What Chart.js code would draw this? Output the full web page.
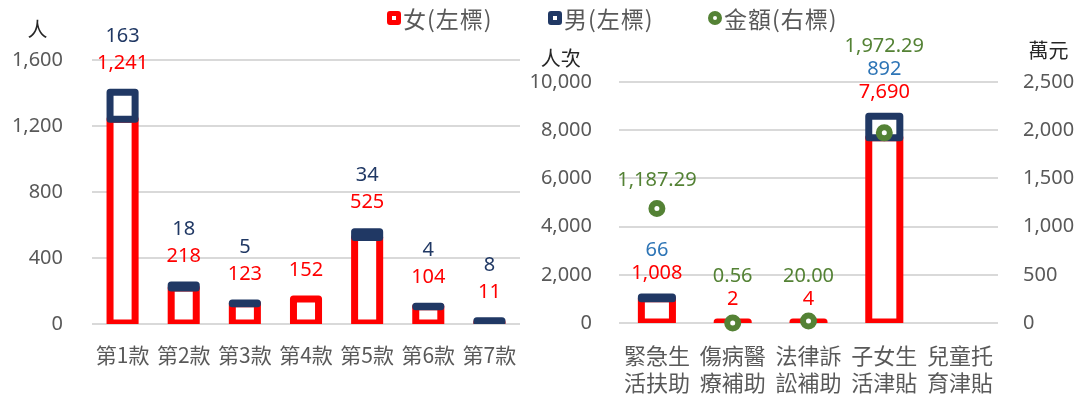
<!DOCTYPE html>
<html><head><meta charset="utf-8">
<script src="https://cdn.jsdelivr.net/npm/chart.js@4/dist/chart.umd.min.js"></script>
<style>
html,body{margin:0;padding:0;background:#fff;width:1078px;height:401px;overflow:hidden;}
#wrap{position:relative;width:1078px;height:401px;}
canvas{position:absolute;top:0;}
#c1{left:0;} #c2{left:500px;}
.item{position:absolute;top:5px;height:26px;display:flex;align-items:center;font-family:'Noto Sans CJK TC',sans-serif;font-size:23px;letter-spacing:1px;color:#595959;white-space:nowrap;}
.mk{box-sizing:border-box;width:14px;height:14px;border-radius:3px;background:#fff;margin-right:2px;border:5px solid #000;}
</style></head>
<body>
<div id="wrap">
<canvas id="c1" width="540" height="401"></canvas>
<canvas id="c2" width="578" height="401"></canvas>
<div class="item" style="left:387px"><span class="mk" style="border-color:#FF0000"></span>女(左標)</div>
<div class="item" style="left:548px"><span class="mk" style="border-color:#203864"></span>男(左標)</div>
<div class="item" style="left:708px"><span class="mk" style="border-color:#548235;border-radius:50%"></span>金額(右標)</div>
</div>
<script>
// ---- data ----
const leftCategories = ['第1款','第2款','第3款','第4款','第5款','第6款','第7款'];
const leftFemale = [1241, 218, 123, 152, 525, 104, 11];
const leftMale   = [163, 18, 5, null, 34, 4, 8];
const leftTicks  = [0, 400, 800, 1200, 1600];

const rightCategories = [['緊急生','活扶助'],['傷病醫','療補助'],['法律訴','訟補助'],['子女生','活津貼'],['兒童托','育津貼']];
const rightFemale = [1008, 2, 4, 7690, null];
const rightMale   = [66, null, null, 892, null];
const rightAmount = [1187.29, 0.56, 20.00, 1972.29, null];
const rightTicksPeople = [0, 2000, 4000, 6000, 8000, 10000];
const rightTicksAmount = [0, 500, 1000, 1500, 2000, 2500];

// ---- styles ----
const RED = '#FF0000', NAVY = '#203864', BLUE = '#2E75B6', GREEN = '#548235', GRAY = '#595959', GRID = '#D9D9D9';
const FAMILY = "'Noto Sans', 'Noto Sans CJK TC', sans-serif";
const numFont = "20px " + FAMILY;
const titleFont = "20px 'Noto Sans CJK TC', sans-serif";
Chart.defaults.font.family = FAMILY;

const fmtInt = v => Number(v).toLocaleString('en-US');
const fmtAmt = v => Number(v).toLocaleString('en-US', {minimumFractionDigits: 2, maximumFractionDigits: 2});

function drawText(ctx, text, x, y, color, font) {
  ctx.save();
  ctx.font = font; ctx.fillStyle = color; ctx.textAlign = 'center'; ctx.textBaseline = 'middle';
  ctx.fillText(text, x, y);
  ctx.restore();
}

// bars drawn as Excel-like outlined boxes (stroke centered on the bar edge), geometry from Chart.js elements
const outlineBars = {
  id: 'outlineBars',
  beforeDatasetsDraw(chart) {
    const ctx = chart.ctx, a = chart.chartArea;
    ctx.save();
    ctx.beginPath();
    ctx.rect(a.left, a.top - 30, a.right - a.left, a.bottom - a.top + 30);
    ctx.clip();
    chart.data.datasets.forEach((ds, di) => {
      if (ds.type === 'line') return;
      const meta = chart.getDatasetMeta(di);
      meta.data.forEach((bar, i) => {
        if (ds.data[i] == null) return;
        const p = bar.getProps(['x', 'y', 'base', 'width'], true);
        const t = Math.min(p.y, p.base), h = Math.abs(p.base - p.y);
        ctx.beginPath();
        ctx.rect(p.x - p.width / 2, t, p.width, h);
        ctx.fillStyle = '#fff'; ctx.fill();
        ctx.lineWidth = 7; ctx.lineJoin = 'round';
        ctx.strokeStyle = ds.borderColor; ctx.stroke();
      });
    });
    ctx.restore();
  }
};

function axisTitlePlugin(items) {
  return {
    id: 'axisTitles',
    afterDraw(chart) {
      const ctx = chart.ctx;
      items.forEach(it => {
        const s = chart.scales[it.scale];
        const pad = s.options.ticks.padding;
        ctx.save();
        ctx.font = numFont;
        const w = ctx.measureText(fmtInt(s.max)).width;
        const cx = s.position === 'left' ? s.right - pad - w / 2 : s.left + pad + w / 2;
        const y = s.getPixelForValue(s.max) - it.dy;
        drawText(ctx, it.text, cx, y, '#262626', titleFont);
        ctx.restore();
      });
    }
  };
}

const leftLabels = {
  id: 'leftLabels',
  afterDatasetsDraw(chart) {
    const ctx = chart.ctx;
    const f = chart.getDatasetMeta(0).data, m = chart.getDatasetMeta(1).data;
    leftCategories.forEach((c, i) => {
      if (leftFemale[i] == null) return;
      const top = leftMale[i] != null ? m[i].y : f[i].y;
      const x = f[i].x;
      drawText(ctx, fmtInt(leftFemale[i]), x, top - 29, RED, numFont);
      if (leftMale[i] != null) drawText(ctx, fmtInt(leftMale[i]), x, top - 56, NAVY, numFont);
    });
  }
};

const rightLabels = {
  id: 'rightLabels',
  afterDatasetsDraw(chart) {
    const ctx = chart.ctx;
    const f = chart.getDatasetMeta(0).data, m = chart.getDatasetMeta(1).data, p = chart.getDatasetMeta(2).data;
    rightCategories.forEach((c, i) => {
      if (rightFemale[i] == null) return;
      const placed = [];
      const top = rightMale[i] != null ? m[i].y : f[i].y;
      const x = f[i].x;
      let y = top - 24;
      drawText(ctx, fmtInt(rightFemale[i]), x, y, RED, numFont); placed.push(y);
      if (rightMale[i] != null) { y -= 23; drawText(ctx, fmtInt(rightMale[i]), x, y, BLUE, numFont); placed.push(y); }
      if (rightAmount[i] != null) {
        let ay = p[i].y - 28;
        if (placed.some(py => Math.abs(py - ay) < 22)) ay = Math.min(...placed) - 23;
        drawText(ctx, fmtAmt(rightAmount[i]), x, ay, GREEN, numFont);
      }
    });
  }
};

const barDs = (label, data, color, yAxisID) => ({
  type: 'bar', label, data, yAxisID,
  backgroundColor: 'rgba(0,0,0,0)', borderColor: color, borderWidth: 0,
  barPercentage: 0.41, categoryPercentage: 1, stack: 's'
});

// ---- left chart ----
new Chart(document.getElementById('c1'), {
  type: 'bar',
  data: {
    labels: leftCategories,
    datasets: [barDs('女(左標)', leftFemale, RED, 'y'), barDs('男(左標)', leftMale, NAVY, 'y')]
  },
  options: {
    responsive: false, animation: false, devicePixelRatio: 1,
    layout: {padding: {top: 60, right: 20, left: 0, bottom: 0}},
    plugins: {legend: {display: false}, tooltip: {enabled: false}},
    scales: {
      x: {
        stacked: true,
        grid: {display: false}, border: {display: false},
        ticks: {color: GRAY, font: {size: 21, family: "'Noto Sans CJK TC', sans-serif"}, padding: 10, autoSkip: false, maxRotation: 0},
        afterFit(s) { s.height = 77; }
      },
      y: {
        stacked: true, min: 0, max: 1600,
        afterBuildTicks(s) { s.ticks = leftTicks.map(v => ({value: v})); },
        grid: {color: GRID, lineWidth: 2, drawTicks: false}, border: {display: false},
        ticks: {color: GRAY, font: {size: 20}, padding: 29, callback: v => fmtInt(v)},
        afterFit(s) { s.width = 92; }
      }
    }
  },
  plugins: [outlineBars, leftLabels, axisTitlePlugin([{scale: 'y', text: '人', dy: 31}])]
});

// ---- right chart ----
new Chart(document.getElementById('c2'), {
  type: 'bar',
  data: {
    labels: rightCategories,
    datasets: [
      barDs('女(左標)', rightFemale, RED, 'y'),
      barDs('男(左標)', rightMale, NAVY, 'y'),
      {
        type: 'line', label: '金額(右標)', data: rightAmount, yAxisID: 'y2',
        showLine: false, clip: false,
        pointStyle: 'circle', pointRadius: 5.5, pointBorderWidth: 6,
        pointBackgroundColor: '#fff', pointBorderColor: GREEN, borderColor: GREEN
      }
    ]
  },
  options: {
    responsive: false, animation: false, devicePixelRatio: 1,
    layout: {padding: {top: 82, right: 0, left: 0, bottom: 0}},
    plugins: {legend: {display: false}, tooltip: {enabled: false}},
    scales: {
      x: {
        stacked: true,
        grid: {display: false}, border: {display: false},
        ticks: {color: GRAY, font: {size: 22, family: "'Noto Sans CJK TC', sans-serif", lineHeight: 1.23}, padding: 11, autoSkip: false, maxRotation: 0},
        afterFit(s) { s.height = 78; }
      },
      y: {
        position: 'left', stacked: true, min: 0, max: 10000,
        afterBuildTicks(s) { s.ticks = rightTicksPeople.map(v => ({value: v})); },
        grid: {color: GRID, lineWidth: 2, drawTicks: false}, border: {display: false},
        ticks: {color: GRAY, font: {size: 20}, padding: 27, callback: v => fmtInt(v)},
        afterFit(s) { s.width = 119; }
      },
      y2: {
        position: 'right', stacked: false, min: 0, max: 2500,
        afterBuildTicks(s) { s.ticks = rightTicksAmount.map(v => ({value: v})); },
        grid: {display: false, drawTicks: false}, border: {display: false},
        ticks: {color: GRAY, font: {size: 20}, padding: 25, callback: v => fmtInt(v)},
        afterFit(s) { s.width = 80; }
      }
    }
  },
  plugins: [outlineBars, rightLabels, axisTitlePlugin([{scale: 'y', text: '人次', dy: 24}, {scale: 'y2', text: '萬元', dy: 32}])]
});
</script>
</body></html>
